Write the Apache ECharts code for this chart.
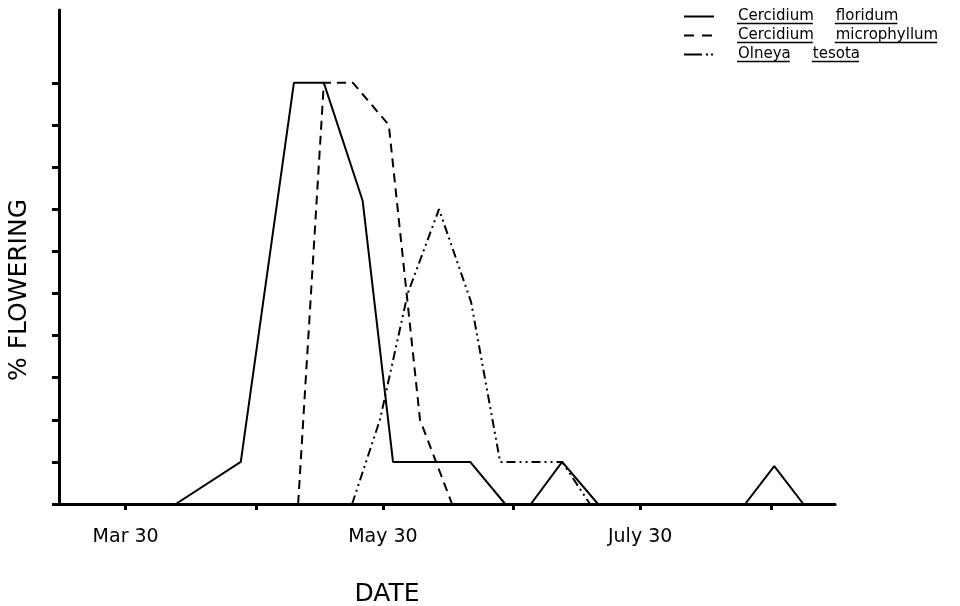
<!DOCTYPE html>
<html>
<head>
<meta charset="utf-8">
<script src="https://cdn.jsdelivr.net/npm/echarts@6/dist/echarts.min.js"></script>
<style>
  html, body { margin: 0; padding: 0; background: #fff; }
  #main { width: 960px; height: 606px; }
</style>
</head>
<body>
<div id="main"></div>
<script>
// days counted from Mar 30
var floridumDays = [11.9, 27.3, 39.9, 47.0, 56.2, 63.4, 81.7, 90.0, 96.1, 103.5, 112.0, 146.9, 153.8, 160.7];
var floridumPct  = [0, 10, 100, 100, 72, 10, 10, 0, 0, 10, 0, 0, 9, 0];

var microDays = [40.9, 47.0, 53.9, 62.4, 69.8, 77.4];
var microPct  = [0, 100, 100, 90, 20, 0];

var tesotaDays = [53.7, 60.3, 66.9, 74.3, 81.9, 88.8, 103.5, 110.1];
var tesotaPct  = [0, 20, 50, 70, 48, 10, 10, 0];

var seriesNames = ['Cercidium floridum', 'Cercidium microphyllum', 'Olneya tesota'];

var xTickDays = [0, 31, 61, 92, 122, 153];
var xLabelDays = [0, 61, 122];
var xLabelText = ['Mar 30', 'May 30', 'July 30'];
var yTickValues = [0, 10, 20, 30, 40, 50, 60, 70, 80, 90, 100];

var font = '"DejaVu Sans", sans-serif';

function pairs(xs, ys) {
    return xs.map(function (x, i) { return [x, ys[i]]; });
}

// underlines below each legend word
var ctx = document.createElement('canvas').getContext('2d');
ctx.font = '15px "DejaVu Sans"';
var underlines = [];
seriesNames.forEach(function (name, row) {
    var words = name.split(' ');
    var x = 683 + 30 + 5 + 19;
    var y = 15 + row * 19 + 8.5;
    words.forEach(function (w) {
        var wd = ctx.measureText(w).width;
        underlines.push({
            type: 'line',
            shape: {x1: x, y1: y, x2: x + wd, y2: y},
            style: {stroke: '#000', lineWidth: 1.4}
        });
        x += wd + 22;
    });
});

var chart = echarts.init(document.getElementById('main'));

var option = {
    animation: false,
    backgroundColor: '#fff',
    grid: {left: 59, right: 125, top: 10, bottom: 102},
    legend: {
        orient: 'vertical',
        left: 683,
        top: 9,
        padding: 0,
        itemWidth: 30,
        itemHeight: 14,
        itemGap: 4,
        itemStyle: {opacity: 0},
        data: [
            {name: seriesNames[0]},
            {name: seriesNames[1], lineStyle: {type: [10, 8]}},
            {name: seriesNames[2], lineStyle: {type: [18, 4, 2, 3, 2, 10]}}
        ],
        formatter: function (name) {
            var p = name.split(' ');
            return '{p| }{w|' + p[0] + '}{g| }{w|' + p[1] + '}';
        },
        textStyle: {
            rich: {
                p: {width: 19, fontSize: 15},
                g: {width: 22, fontSize: 15},
                w: {fontSize: 15, fontFamily: font, color: '#000'}
            }
        }
    },
    xAxis: {
        type: 'value',
        min: -15.8,
        max: 168.2,
        axisLine: {lineStyle: {color: '#000', width: 3}},
        axisTick: {show: true, customValues: xTickDays, length: 6, lineStyle: {color: '#000', width: 3}},
        axisLabel: {
            customValues: xLabelDays,
            formatter: function (v) { return xLabelText[xLabelDays.indexOf(v)]; },
            margin: 24,
            fontSize: 19,
            fontFamily: font,
            color: '#000'
        },
        splitLine: {show: false}
    },
    yAxis: {
        type: 'value',
        min: 0,
        max: 117.3,
        axisLine: {show: true, onZero: false, lineStyle: {color: '#000', width: 3}},
        axisTick: {show: true, customValues: yTickValues, length: 7, lineStyle: {color: '#000', width: 3}},
        axisLabel: {show: false},
        splitLine: {show: false}
    },
    graphic: underlines.concat([
        {
            type: 'text', x: 387, y: 594,
            style: {text: 'DATE', fontSize: 25, fontFamily: font, fill: '#000', align: 'center', verticalAlign: 'middle'}
        },
        {
            type: 'text', x: 19, y: 290, rotation: Math.PI / 2,
            style: {text: '% FLOWERING', fontSize: 25, fontFamily: font, fill: '#000', align: 'center', verticalAlign: 'middle'}
        }
    ]),
    series: [
        {
            name: seriesNames[0], type: 'line', symbol: 'none',
            data: pairs(floridumDays, floridumPct),
            lineStyle: {color: '#000', width: 2, type: 'solid'},
            itemStyle: {color: '#000'}
        },
        {
            name: seriesNames[1], type: 'line', symbol: 'none',
            data: pairs(microDays, microPct),
            lineStyle: {color: '#000', width: 2, type: [9, 6]},
            itemStyle: {color: '#000'}
        },
        {
            name: seriesNames[2], type: 'line', symbol: 'none',
            data: pairs(tesotaDays, tesotaPct),
            lineStyle: {color: '#000', width: 2, type: [9, 4, 2, 4, 2, 4]},
            itemStyle: {color: '#000'}
        }
    ]
};

chart.setOption(option);
</script>
</body>
</html>
